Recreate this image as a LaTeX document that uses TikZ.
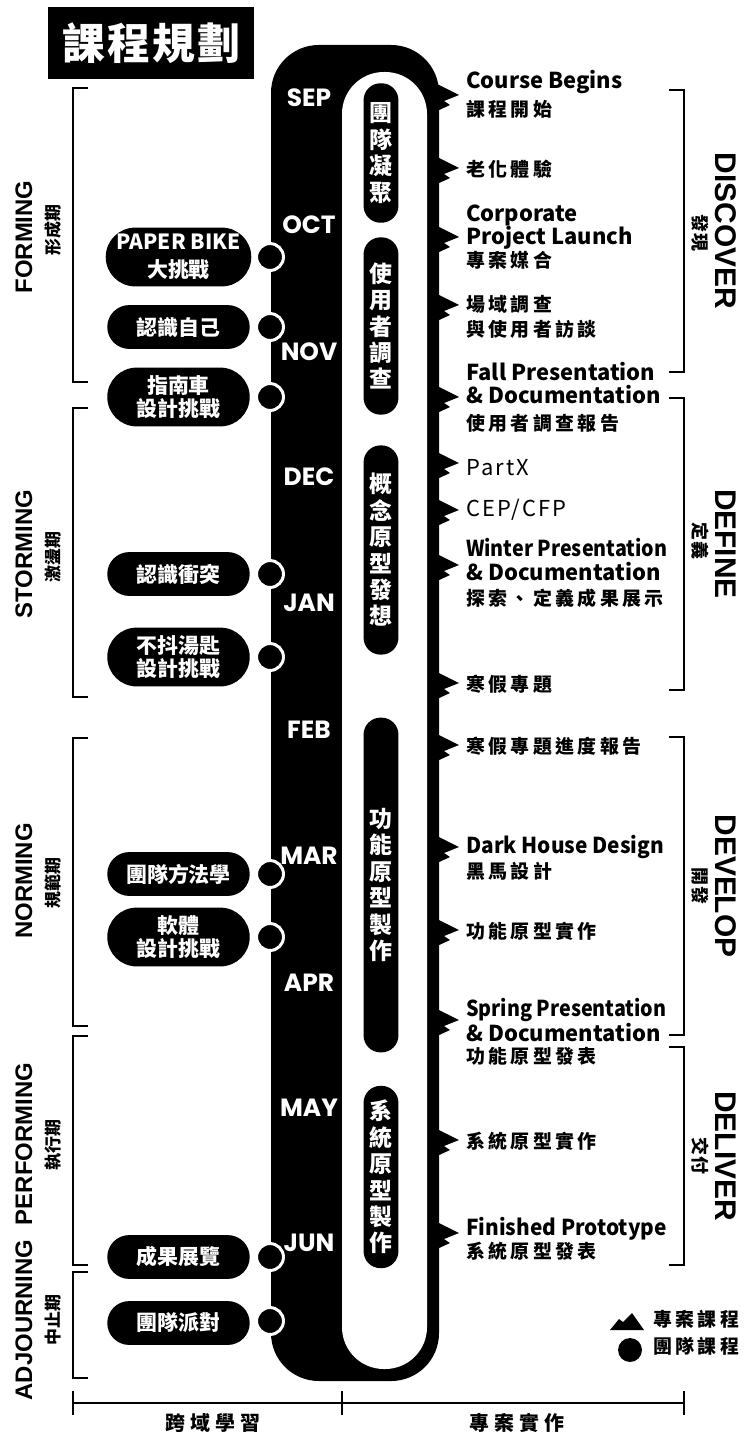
\documentclass[tikz,border=0pt]{standalone}
\usepackage{fontspec}
\usetikzlibrary{shapes.misc}
\setmainfont{Noto Sans CJK TC}
\newfontfamily\cjk{Noto Sans CJK TC}
\newfontfamily\cjkls{Noto Sans CJK TC}[LetterSpace=18]
\newfontfamily\cjkax{Noto Sans CJK TC}[LetterSpace=25]
\newfontfamily\cjksm{Noto Sans CJK TC}[LetterSpace=8]
\newfontfamily\cjkT{Noto Sans CJK TC}[LetterSpace=5]
\newfontfamily\latls{Noto Sans CJK TC}[LetterSpace=10]
\newfontfamily\lab{Liberation Sans}
\newfontfamily\mon{Poppins}
\tikzset{
  pillL/.style={rounded rectangle, fill=black, text=white, minimum width=143pt, minimum height=44pt, inner sep=0pt, align=center, font=\cjk\bfseries\fontsize{21}{23}\selectfont},
  pillLL/.style={pillL, minimum height=59pt},
  dot/.style={circle, fill=black, draw=white, line width=3pt, minimum size=27pt, inner sep=0pt},
  month/.style={text=white, inner sep=0pt, font=\mon\bfseries\fontsize{25}{25}\selectfont},
  ipill/.style={fill=black, rounded corners=17pt, minimum width=35pt, text=white, inner sep=0pt, align=center, font=\cjk\bfseries\fontsize{23}{26.5}\selectfont},
  evL/.style={anchor=west, inner sep=0pt, font=\cjk\bfseries\fontsize{22}{22}\selectfont, text height=0.66em, text depth=0pt},
  evR/.style={anchor=west, inner sep=0pt, font=\latls\fontsize{22}{22}\selectfont, text height=0.66em, text depth=0pt},
  evC/.style={anchor=west, inner sep=0pt, font=\cjkls\bfseries\fontsize{19}{19}\selectfont, text height=0.88em, text depth=0.12em},
  phase/.style={rotate=90, inner sep=0pt, font=\lab\bfseries\fontsize{24}{24}\selectfont},
  phasec/.style={rotate=90, inner sep=0pt, font=\cjk\bfseries\fontsize{17}{17}\selectfont},
  stage/.style={rotate=-90, inner sep=0pt, font=\lab\bfseries\fontsize{30}{30}\selectfont},
  stagec/.style={rotate=-90, inner sep=0pt, font=\cjksm\bfseries\fontsize{18}{18}\selectfont},
  brk/.style={line width=1.6pt},
  axislab/.style={inner sep=0pt, font=\cjkax\bfseries\fontsize{20}{20}\selectfont},
  mtn/.pic={\fill (-2,-11) -- (20,0) -- (5,6) -- (11,10) -- (-2,16) -- cycle;}
}
\begin{document}
\begin{tikzpicture}[x=1bp,y=-1bp]
\useasboundingbox (0,0) rectangle (748,1436);
\fill[white] (0,0) rectangle (748,1436);

% title
\node[fill=black, text=white, minimum width=206pt, minimum height=72pt, inner sep=0pt, font=\cjkT\bfseries\fontsize{43}{43}\selectfont] (title) at (151,43) {課程規劃};

% spine
\fill[black, rounded corners=48] (271,45) rectangle (439,1381);
\fill[white, rounded corners=42] (342,72) rectangle (427,1369);

% spikes (project courses)
\foreach \yy in {95,168,237,305,397,463,510,565,683,745,847,930,1020,1140,1233}
  \pic at (439,\yy) {mtn};

% months
\node[month] (sep) at (309,98) {SEP};
\node[month] (oct) at (309,225) {OCT};
\node[month] (nov) at (309,352) {NOV};
\node[month] (dec) at (309,477) {DEC};
\node[month] (jan) at (309,603) {JAN};
\node[month] (feb) at (309,730) {FEB};
\node[month] (mar) at (309,856) {MAR};
\node[month] (apr) at (309,983) {APR};
\node[month] (may) at (309,1108) {MAY};
\node[month] (jun) at (309,1243) {JUN};

% inner pills
\node[ipill, minimum height=140pt] (i1) at (381,153) {團\\隊\\凝\\聚};
\node[ipill, minimum height=178pt] (i2) at (381,326) {使\\用\\者\\調\\查};
\node[ipill, minimum height=210pt] (i3) at (381,550) {概\\念\\原\\型\\發\\想};
\node[ipill, minimum height=336pt] (i4) at (381,885) {功\\能\\原\\型\\製\\作};
\node[ipill, minimum height=183pt] (i5) at (381,1177) {系\\統\\原\\型\\製\\作};

% team courses (left)
\node[pillLL] (p1) at (178.5,257) {PAPER BIKE\\[5pt]大挑戰};
\node[pillL]  (p2) at (178.5,327) {認識自己};
\node[pillLL] (p3) at (178.5,397) {指南車\\設計挑戰};
\node[pillL]  (p4) at (178.5,574) {認識衝突};
\node[pillLL] (p5) at (178.5,657) {不抖湯匙\\設計挑戰};
\node[pillL]  (p6) at (178.5,874) {團隊方法學};
\node[pillLL] (p7) at (178.5,937) {軟體\\設計挑戰};
\node[pillL]  (p8) at (178.5,1257) {成果展覽};
\node[pillL]  (p9) at (178.5,1323) {團隊派對};
\foreach \n/\yy in {1/257,2/327,3/397,4/574,5/657,6/874,7/937,8/1257,9/1321}
  \node[dot] (d\n) at (270,\yy) {};

% events (right)
\node[evL] (e1a) at (466,85) {Course Begins};
\node[evC] (e1b) at (466,113) {課程開始};
\node[evC] (e2) at (466,173) {老化體驗};
\node[evL] (e3a) at (466,218) {Corporate};
\node[evL] (e3b) at (466,241) {Project Launch};
\node[evC] (e3c) at (466,264) {專案媒合};
\node[evC] (e4a) at (466,308) {場域調查};
\node[evC] (e4b) at (466,333) {與使用者訪談};
\node[evL] (e5a) at (466,377) {Fall Presentation};
\node[evL] (e5b) at (466,400) {\& Documentation};
\node[evC] (e5c) at (466,427) {使用者調查報告};
\node[evR] (e6) at (466,472) {PartX};
\node[evR] (e7) at (466,513) {CEP/CFP};
\node[evL] (e8a) at (466,553) {\scalebox{0.9}[1]{Winter Presentation}};
\node[evL] (e8b) at (466,577) {\& Documentation};
\node[evC] (e8c) at (466,602) {探索、定義成果展示};
\node[evC] (e9) at (466,688) {寒假專題};
\node[evC] (e10) at (466,750) {寒假專題進度報告};
\node[evL] (e11a) at (466,850) {\scalebox{0.95}[1]{Dark House Design}};
\node[evC] (e11b) at (466,875) {黑馬設計};
\node[evC] (e12) at (466,935) {功能原型實作};
\node[evL] (e13a) at (466,1013) {\scalebox{0.9}[1]{Spring Presentation}};
\node[evL] (e13b) at (466,1038) {\& Documentation};
\node[evC] (e13c) at (466,1060) {功能原型發表};
\node[evC] (e14) at (466,1145) {系統原型實作};
\node[evL] (e15a) at (466,1232) {\scalebox{0.95}[1]{Finished Prototype}};
\node[evC] (e15b) at (466,1255) {系統原型發表};

% left brackets
\draw[brk] (88,88) -- (73,88) -- (73,382) -- (88,382);
\draw[brk] (88,408) -- (73,408) -- (73,697) -- (88,697);
\draw[brk] (88,738) -- (73,738) -- (73,1026) -- (88,1026);
\draw[brk] (88,1036) -- (73,1036) -- (73,1265) -- (88,1265);
\draw[brk] (88,1272) -- (73,1272) -- (73,1378) -- (88,1378);
\node[phase] (ph1) at (24,237) {FORMING};
\node[phasec] (ph1c) at (53,230) {形成期};
\node[phase] (ph2) at (24,554) {STORMING};
\node[phasec] (ph2c) at (53,557) {激盪期};
\node[phase] (ph3) at (24,881) {NORMING};
\node[phasec] (ph3c) at (53,883) {規範期};
\node[phase] (ph4) at (24,1144) {PERFORMING};
\node[phasec] (ph4c) at (53,1145) {執行期};
\node[phase] (ph5) at (24,1320) {ADJOURNING};
\node[phasec] (ph5c) at (53,1320) {中止期};

% right brackets
\draw[brk] (669,90) -- (684,90) -- (684,372) -- (669,372);
\draw[brk] (669,398) -- (684,398) -- (684,690) -- (669,690);
\draw[brk] (669,737) -- (684,737) -- (684,1035) -- (669,1035);
\draw[brk] (669,1047) -- (684,1047) -- (684,1265) -- (669,1265);
\node[stage] (st1) at (726,231) {DISCOVER};
\node[stagec] (st1c) at (700,233) {發現};
\node[stage] (st2) at (726,544) {DEFINE};
\node[stagec] (st2c) at (700,541) {定義};
\node[stage] (st3) at (726,886) {DEVELOP};
\node[stagec] (st3c) at (700,886) {開發};
\node[stage] (st4) at (726,1156) {DELIVER};
\node[stagec] (st4c) at (700,1156) {交付};

% legend
\fill (610,1330) -- (619,1319) -- (623,1322) -- (632,1313) -- (644,1330) -- cycle;
\node[circle, fill=black, minimum size=24pt, inner sep=0pt] (lgc) at (630,1350) {};
\node[evC] (lg1) at (653,1323) {專案課程};
\node[evC] (lg2) at (653,1350) {團隊課程};

% bottom axis
\draw[line width=2pt] (73,1403) -- (684,1403);
\draw[line width=2pt] (73,1391) -- (73,1415);
\draw[line width=2pt] (342,1391) -- (342,1415);
\draw[line width=2pt] (684,1391) -- (684,1415);
\node[axislab] (ax1) at (213,1423) {跨域學習};
\node[axislab] (ax2) at (517,1423) {專案實作};
\end{tikzpicture}
\end{document}
